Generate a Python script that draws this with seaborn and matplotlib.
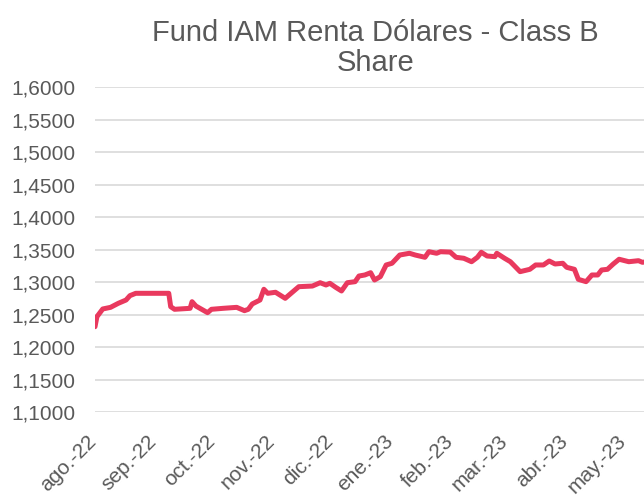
import numpy as np
import pandas as pd
import matplotlib
matplotlib.use('Agg')
import matplotlib.pyplot as plt
import matplotlib.ticker as ticker
import matplotlib.transforms as mtransforms
import seaborn as sns

# valor cuota
fechas = ['2022-08-01', '2022-08-02', '2022-08-05', '2022-08-09', '2022-08-13', '2022-08-17',
          '2022-08-19', '2022-08-22', '2022-09-08', '2022-09-09', '2022-09-11', '2022-09-19',
          '2022-09-20', '2022-09-22', '2022-09-28', '2022-09-30', '2022-10-06', '2022-10-13',
          '2022-10-17', '2022-10-19', '2022-10-21', '2022-10-25', '2022-10-27', '2022-10-29',
          '2022-11-02', '2022-11-07', '2022-11-10', '2022-11-14', '2022-11-21', '2022-11-25',
          '2022-11-28', '2022-11-30', '2022-12-03', '2022-12-06', '2022-12-09', '2022-12-13',
          '2022-12-15', '2022-12-18', '2022-12-21', '2022-12-23', '2022-12-26', '2022-12-29',
          '2023-01-01', '2023-01-05', '2023-01-10', '2023-01-13', '2023-01-18', '2023-01-20',
          '2023-01-24', '2023-01-26', '2023-01-31', '2023-02-03', '2023-02-07', '2023-02-11',
          '2023-02-14', '2023-02-16', '2023-02-19', '2023-02-23', '2023-02-24', '2023-02-28',
          '2023-03-03', '2023-03-08', '2023-03-13', '2023-03-16', '2023-03-20', '2023-03-23',
          '2023-03-26', '2023-03-30', '2023-04-01', '2023-04-05', '2023-04-07', '2023-04-11',
          '2023-04-14', '2023-04-17', '2023-04-19', '2023-04-22', '2023-04-25', '2023-04-28',
          '2023-05-03', '2023-05-08', '2023-05-10', '2023-05-17']
valores = [1.2312, 1.2466, 1.2585, 1.2610, 1.2672, 1.2723,
           1.2790, 1.2826, 1.2826, 1.2620, 1.2580, 1.2595,
           1.2697, 1.2630, 1.2528, 1.2580, 1.2595, 1.2610,
           1.2559, 1.2580, 1.2662, 1.2723, 1.2888, 1.2826,
           1.2842, 1.2749, 1.2826, 1.2928, 1.2938, 1.2989,
           1.2954, 1.2980, 1.2918, 1.2862, 1.2989, 1.3005,
           1.3092, 1.3108, 1.3143, 1.3031, 1.3082, 1.3262,
           1.3288, 1.3415, 1.3442, 1.3415, 1.3380, 1.3466,
           1.3442, 1.3466, 1.3460, 1.3380, 1.3365, 1.3312,
           1.3380, 1.3457, 1.3400, 1.3390, 1.3442, 1.3365,
           1.3312, 1.3159, 1.3195, 1.3262, 1.3262, 1.3323,
           1.3277, 1.3288, 1.3226, 1.3195, 1.3041, 1.3005,
           1.3108, 1.3108, 1.3185, 1.3195, 1.3277, 1.3350,
           1.3312, 1.3328, 1.3303, 1.3330]

meses = ['ago.-22', 'sep.-22', 'oct.-22', 'nov.-22', 'dic.-22',
         'ene.-23', 'feb.-23', 'mar.-23', 'abr.-23', 'may.-23']
yticks = [1.10, 1.15, 1.20, 1.25, 1.30, 1.35, 1.40, 1.45, 1.50, 1.55, 1.60]

titulo = 'Fund IAM Renta Dólares - Class B\nShare'

df = pd.DataFrame({'fecha': pd.to_datetime(fechas), 'valor': valores})

sns.set_style('white')
plt.rcParams['font.family'] = ['Liberation Sans', 'DejaVu Sans']
gris = '#595959'

fig = plt.figure(figsize=(6.44, 5.0), dpi=100)
ax = fig.add_axes([0.1475, 0.176, 0.8711, 0.65])

ax = sns.lineplot(data=df, x='fecha', y='valor', color='#E9395E', linewidth=3.6, ax=ax)
for l in ax.get_lines():
    l.set_solid_joinstyle('round')
    l.set_solid_capstyle('round')

ax.set_ylim(1.1, 1.6)
ax.set_yticks(yticks)
ax.yaxis.set_major_formatter(ticker.FuncFormatter(lambda v, p: f'{v:.4f}'.replace('.', ',')))
ax.set_xlim(pd.Timestamp('2022-08-01'), pd.Timestamp('2023-05-17'))
ax.set_xticks(pd.date_range('2022-08-01', '2023-05-01', freq='MS'))
ax.set_xticklabels(meses, rotation=45, ha='right')

ax.grid(axis='y', color='#D9D9D9', linewidth=1.2)
ax.grid(axis='x', visible=False)
ax.set_axisbelow(True)
for s in ax.spines.values():
    s.set_visible(False)
ax.tick_params(axis='both', length=0, labelsize=15, labelcolor=gris)
ax.tick_params(axis='y', pad=14)
ax.tick_params(axis='x', pad=14)
# mover un poco las etiquetas de fecha a la derecha
off = mtransforms.ScaledTranslation(5 / 100, 0, fig.dpi_scale_trans)
for lab in ax.get_xticklabels():
    lab.set_transform(lab.get_transform() + off)

ax.set_xlabel('')
ax.set_ylabel('')
ax.set_title(titulo, fontsize=21, color=gris, pad=11.5, linespacing=1.1)

plt.savefig('out.png', dpi=100)
